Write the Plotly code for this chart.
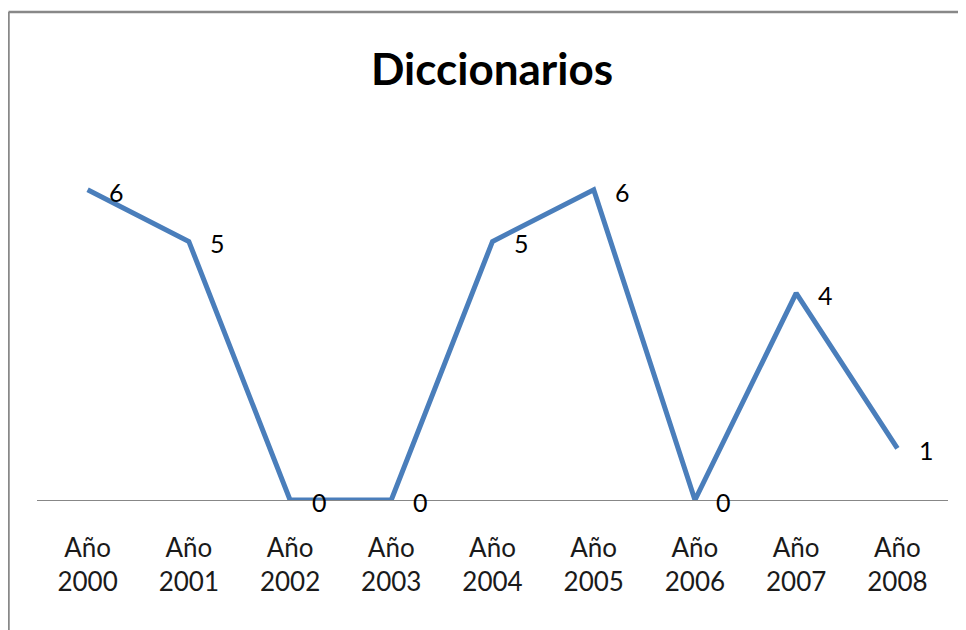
import plotly.graph_objects as go

categories = ["Año 2000", "Año 2001", "Año 2002", "Año 2003", "Año 2004",
              "Año 2005", "Año 2006", "Año 2007", "Año 2008"]
tick_labels = ["Año<br>2000", "Año<br>2001", "Año<br>2002", "Año<br>2003", "Año<br>2004",
               "Año<br>2005", "Año<br>2006", "Año<br>2007", "Año<br>2008"]
values = [6, 5, 0, 0, 5, 6, 0, 4, 1]

FONT = "Lato"
OFF = 8  # page body margin
W, H = 966, 630
pw, ph = 911, 362
L = 37 - OFF
T = 138 - OFF
R = W - L - pw
B = H - T - ph

fig = go.Figure()
fig.add_trace(go.Scatter(
    x=categories, y=values, mode="lines",
    line=dict(color="#4A7EBB", width=5),
    cliponaxis=False, hoverinfo="skip", showlegend=False,
))

for c, v in zip(categories, values):
    fig.add_annotation(x=c, y=v, xref="x", yref="y", text=str(v), showarrow=False,
                       xshift=29, yshift=-2,
                       font=dict(family=FONT, size=25, color="#000000"))

# outer chart border (left and top)
bx = (8.5 - 37) / pw
by = (500 - 12) / ph
fig.add_shape(type="line", xref="paper", yref="paper", x0=bx, x1=bx, y0=by, y1=-1,
              line=dict(color="#888888", width=2.5))
fig.add_shape(type="line", xref="paper", yref="paper", x0=bx, x1=2, y0=by, y1=by,
              line=dict(color="#888888", width=2.5))

fig.update_layout(
    width=W, height=H,
    margin=dict(l=L, r=R, t=T, b=B),
    paper_bgcolor="white", plot_bgcolor="white",
    title=dict(text="<b>Diccionarios</b>", x=(492 - 37) / pw, xref="paper", xanchor="center",
               y=1 - (70 - OFF) / H, yref="container", yanchor="middle",
               font=dict(family=FONT, size=44, color="#000000")),
    xaxis=dict(type="category", tickmode="array", tickvals=categories, ticktext=tick_labels,
               range=[-0.5, 8.5], showgrid=False, zeroline=False,
               showline=True, linecolor="#878787", linewidth=1.2,
               ticks="", ticklabelstandoff=25,
               tickfont=dict(family=FONT, size=26, color="#1a1a1a")),
    yaxis=dict(range=[0, 7], visible=False, showgrid=False, zeroline=False),
)

fig.write_html("out.html")
